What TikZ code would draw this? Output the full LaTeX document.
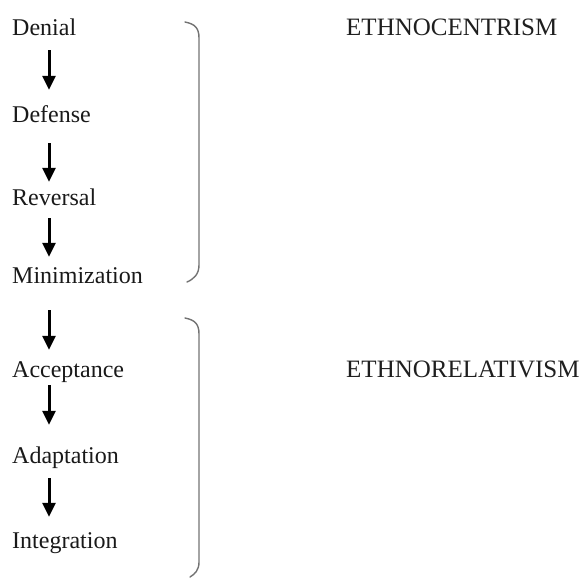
\documentclass[tikz,border=0pt]{standalone}
\usepackage{fontspec}
\setmainfont{Liberation Serif}
\usetikzlibrary{arrows.meta}
\begin{document}
\begin{tikzpicture}[x=1pt,y=-1pt,
  stage/.style={anchor=base west,inner sep=0pt,text height=17pt,text depth=6pt,
    font=\fontsize{24}{28}\selectfont,text=black!90},
  phase/.style={anchor=base west,inner sep=0pt,font=\fontsize{25}{29}\selectfont,text=black!88},
  arr/.style={line width=3pt,black,-{Triangle[width=13pt,length=14pt]}},
  brace/.style={line width=1.4pt,black!55,line cap=round}]
\useasboundingbox (0,0) rectangle (583,579);
\coordinate (ax) at (49,0);
\node[stage] (denial) at (12,35) {Denial};
\node[stage] (defense) at (12,122) {Defense};
\node[stage] (reversal) at (12,205) {Reversal};
\node[stage] (minim) at (12,283) {Minimization};
\node[stage] (accept) at (12,377) {Acceptance};
\node[stage] (adapt) at (12,463) {Adaptation};
\node[stage] (integ) at (12,548) {Integration};
\node[phase] (ethc) at (346,35) {ETHNOCENTRISM};
\node[phase] (ethr) at (346,377) {ETHNORELATIVISM};
\draw[arr,shorten <=9pt,shorten >=15pt] (denial.south -| ax) -- (defense.north -| ax);
\draw[arr,shorten <=15pt,shorten >=6pt] (defense.south -| ax) -- (reversal.north -| ax);
\draw[arr,shorten <=7pt,shorten >=9pt] (reversal.south -| ax) -- (minim.north -| ax);
\draw[arr,shorten <=21pt,shorten >=10pt] (minim.south -| ax) -- (accept.north -| ax);
\draw[arr,shorten <=2pt,shorten >=21pt] (accept.south -| ax) -- (adapt.north -| ax);
\draw[arr,shorten <=9pt,shorten >=14pt] (adapt.south -| ax) -- (integ.north -| ax);
\draw[brace] (185,22) .. controls (195,24) and (199,28) .. (199,38) -- (199,265)
  .. controls (199,274) and (194,279) .. (187,282);
\draw[brace] (185,318) .. controls (195,320) and (199,324) .. (199,334) -- (199,562)
  .. controls (199,570) and (195,574) .. (190,577);
\end{tikzpicture}
\end{document}
